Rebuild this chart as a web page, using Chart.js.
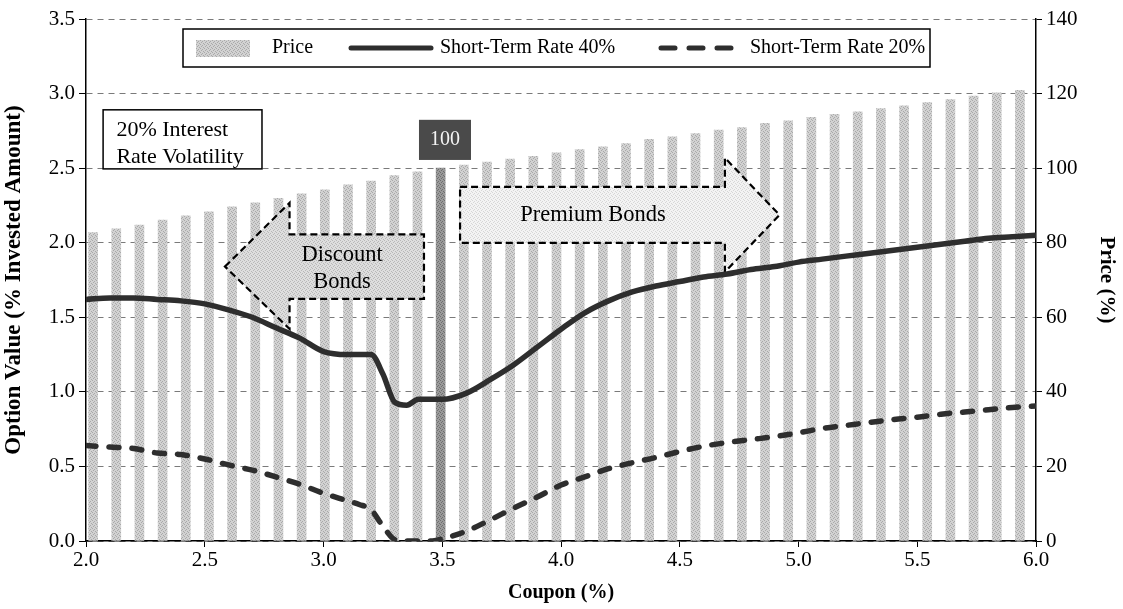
<!DOCTYPE html>
<html>
<head>
<meta charset="utf-8">
<script src="https://cdn.jsdelivr.net/npm/chart.js@4.4.1/dist/chart.umd.min.js"></script>
<style>
html, body { margin: 0; padding: 0; background: #fff; }
#wrap { width: 1123px; height: 609px; }
</style>
</head>
<body>
<div id="wrap"><canvas id="container"></canvas></div>
<script>
// bar categories (coupon, %)
const barCoupons = ['2.0', '2.1', '2.2', '2.3', '2.4', '2.5', '2.6', '2.7', '2.8', '2.9',
    '3.0', '3.1', '3.2', '3.3', '3.4', '3.5', '3.6', '3.7', '3.8', '3.9',
    '4.0', '4.1', '4.2', '4.3', '4.4', '4.5', '4.6', '4.7', '4.8', '4.9',
    '5.0', '5.1', '5.2', '5.3', '5.4', '5.5', '5.6', '5.7', '5.8', '5.9', '6.0']
const price = [82.7, 83.7, 84.7, 86.1, 87.2, 88.3, 89.6, 90.7, 91.9, 93.1,
    94.2, 95.5, 96.5, 98.0, 99.0, 100, 100.8, 101.6, 102.4, 103.2,
    104.1, 105.0, 105.7, 106.6, 107.7, 108.4, 109.3, 110.2, 110.9, 112.0,
    112.7, 113.6, 114.4, 115.1, 116.0, 116.7, 117.6, 118.4, 119.3, 120.2, 120.9]
const parCoupon = '3.5'

// option value curves
const lineCoupons = [2.0, 2.1, 2.2, 2.3, 2.4, 2.5, 2.6, 2.7, 2.8, 2.9, 3.0, 3.1,
    3.15, 3.2, 3.25, 3.3, 3.35, 3.4, 3.45, 3.5,
    3.6, 3.7, 3.8, 3.9, 4.0, 4.1, 4.2, 4.3, 4.4, 4.5, 4.6, 4.7, 4.8, 4.9,
    5.0, 5.1, 5.2, 5.3, 5.4, 5.5, 5.6, 5.7, 5.8, 5.9, 6.0]
const rate40 = [1.62, 1.63, 1.63, 1.62, 1.61, 1.59, 1.55, 1.50, 1.43, 1.36, 1.27, 1.25,
    1.25, 1.25, 1.12, 0.93, 0.91, 0.95, 0.95, 0.95,
    0.99, 1.08, 1.18, 1.30, 1.42, 1.53, 1.61, 1.67, 1.71, 1.74, 1.77, 1.79, 1.82, 1.84,
    1.87, 1.89, 1.91, 1.93, 1.95, 1.97, 1.99, 2.01, 2.03, 2.04, 2.05]
const rate20 = [0.64, 0.63, 0.62, 0.59, 0.58, 0.55, 0.51, 0.475, 0.43, 0.38, 0.32, 0.27,
    0.245, 0.21, 0.10, 0.01, 0.0, 0.0, 0.0, 0.015,
    0.065, 0.14, 0.22, 0.295, 0.375, 0.43, 0.485, 0.525, 0.56, 0.60, 0.635, 0.66, 0.68, 0.70,
    0.725, 0.755, 0.775, 0.795, 0.815, 0.83, 0.85, 0.865, 0.88, 0.895, 0.905]

const FONT = '"Liberation Serif", "Times New Roman", serif'
const lineColor = '#2e2e2e'

// small stipple texture like the printed original
function stipple(base, dot) {
    const c = document.createElement('canvas')
    c.width = 4; c.height = 4
    const g = c.getContext('2d')
    g.fillStyle = base
    g.fillRect(0, 0, 4, 4)
    g.fillStyle = dot
    g.fillRect(0, 0, 1, 1); g.fillRect(2, 1, 1, 1); g.fillRect(1, 2, 1, 1); g.fillRect(3, 3, 1, 1)
    return g.createPattern(c, 'repeat')
}
const barFill = stipple('#d2d2d2', '#a9a9a9')
const parFill = stipple('#9a9a9a', '#6e6e6e')
const discountFill = stipple('#dedede', '#b8b8b8')
const premiumFill = stipple('#f3f3f3', '#d6d6d6')

const toPoints = ys => lineCoupons.map((c, i) => ({ x: c, y: ys[i] }))

function drawPoly(ctx, pts, fill) {
    ctx.save()
    ctx.beginPath()
    pts.forEach((p, i) => i ? ctx.lineTo(p[0], p[1]) : ctx.moveTo(p[0], p[1]))
    ctx.closePath()
    ctx.fillStyle = fill
    ctx.fill()
    ctx.setLineDash([7, 4])
    ctx.lineWidth = 2.2
    ctx.strokeStyle = '#000'
    ctx.stroke()
    ctx.restore()
}

const overlay = {
    id: 'overlay',
    afterDatasetDraw(chart, args) {
        if (args.index !== 0) return
        const ctx = chart.ctx
        const xs = chart.scales.x, ys = chart.scales.y
        const X = v => xs.getPixelForValue(v)
        const Y = v => ys.getPixelForValue(v)
        const P = (a, b) => [X(a), Y(b)]

        // discount arrow (left)
        drawPoly(ctx, [P(2.585, 1.84), P(2.857, 2.267), P(2.857, 2.056), P(3.423, 2.056),
            P(3.423, 1.623), P(2.857, 1.623), P(2.857, 1.422)], discountFill)
        // premium arrow (right)
        drawPoly(ctx, [P(3.575, 2.374), P(4.69, 2.374), P(4.69, 2.569), P(4.92, 2.186),
            P(4.69, 1.804), P(4.69, 1.999), P(3.575, 1.999)], premiumFill)

        ctx.save()
        ctx.fillStyle = '#000'
        ctx.font = '22.5px ' + FONT
        ctx.textAlign = 'center'
        ctx.textBaseline = 'middle'
        ctx.fillText('Discount', X(3.078), Y(1.918))
        ctx.fillText('Bonds', X(3.078), Y(1.737))
        ctx.fillText('Premium Bonds', X(4.135), Y(2.186))

        // par label
        ctx.fillStyle = '#4a4a4a'
        ctx.fillRect(X(3.402), Y(2.824), X(3.621) - X(3.402), Y(2.555) - Y(2.824))
        ctx.fillStyle = '#f4f4f4'
        ctx.font = '20px ' + FONT
        ctx.fillText('100', X(3.512), Y(2.69))

        // volatility box
        ctx.fillStyle = '#fff'
        ctx.fillRect(X(2.072), Y(2.891), X(2.741) - X(2.072), Y(2.495) - Y(2.891))
        ctx.lineWidth = 1.5
        ctx.strokeStyle = '#000'
        ctx.strokeRect(X(2.072), Y(2.891), X(2.741) - X(2.072), Y(2.495) - Y(2.891))
        ctx.fillStyle = '#000'
        ctx.textAlign = 'left'
        ctx.font = '22px ' + FONT
        ctx.fillText('20% Interest', X(2.128), Y(2.757))
        ctx.fillText('Rate Volatility', X(2.128), Y(2.575))

        // legend
        const ca = chart.chartArea
        const lx = ca.left + 97, ly = ca.top + 10
        ctx.fillStyle = '#fff'
        ctx.fillRect(lx, ly, 747, 38)
        ctx.lineWidth = 1.5
        ctx.strokeRect(lx, ly, 747, 38)
        const cy = ly + 19
        ctx.fillStyle = barFill
        ctx.fillRect(lx + 13, cy - 8, 54, 17)
        ctx.fillStyle = '#000'
        ctx.font = '20px ' + FONT
        ctx.fillText('Price', lx + 89, cy)
        ctx.lineWidth = 5
        ctx.lineCap = 'round'
        ctx.strokeStyle = lineColor
        ctx.beginPath()
        ctx.moveTo(lx + 168, cy)
        ctx.lineTo(lx + 248, cy)
        ctx.stroke()
        ctx.fillText('Short-Term Rate 40%', lx + 257, cy)
        ctx.setLineDash([14, 14])
        ctx.beginPath()
        ctx.moveTo(lx + 478, cy)
        ctx.lineTo(lx + 558, cy)
        ctx.stroke()
        ctx.setLineDash([])
        ctx.fillText('Short-Term Rate 20%', lx + 567, cy)
        ctx.restore()
    }
}

new Chart(document.getElementById('container'), {
    data: {
        labels: barCoupons,
        datasets: [
            {
                type: 'bar',
                label: 'Price',
                data: price,
                xAxisID: 'xb',
                yAxisID: 'y2',
                backgroundColor: barCoupons.map(c => c === parCoupon ? parFill : barFill),
                barThickness: 9,
                order: 3
            },
            {
                type: 'line',
                label: 'Short-Term Rate 40%',
                data: toPoints(rate40),
                xAxisID: 'x',
                yAxisID: 'y',
                borderColor: lineColor,
                borderWidth: 5.5,
                pointRadius: 0,
                cubicInterpolationMode: 'monotone',
                order: 1
            },
            {
                type: 'line',
                label: 'Short-Term Rate 20%',
                data: toPoints(rate20),
                xAxisID: 'x',
                yAxisID: 'y',
                borderColor: lineColor,
                borderWidth: 5.5,
                borderDash: [10, 13],
                borderCapStyle: 'round',
                pointRadius: 0,
                cubicInterpolationMode: 'monotone',
                order: 2
            }
        ]
    },
    options: {
        responsive: true,
        maintainAspectRatio: false,
        animation: false,
        layout: { padding: { top: 19, left: 0, right: 0, bottom: 0 } },
        plugins: {
            legend: { display: false },
            tooltip: { enabled: false }
        },
        scales: {
            xb: {
                type: 'category',
                display: false,
                offset: true
            },
            x: {
                type: 'linear',
                position: 'bottom',
                min: 2,
                max: 6,
                afterFit: s => { s.height = 68 },
                ticks: {
                    stepSize: 0.5,
                    color: '#000',
                    font: { family: FONT, size: 21 },
                    callback: v => v.toFixed(1),
                    padding: 1
                },
                grid: { drawOnChartArea: false, drawTicks: true, tickLength: 6, tickColor: '#000' },
                border: { color: '#000', width: 1.5 },
                title: {
                    display: true,
                    text: 'Coupon (%)',
                    color: '#000',
                    font: { family: FONT, size: 20, weight: 'bold' },
                    padding: { top: 3 }
                }
            },
            y: {
                position: 'left',
                min: 0,
                max: 3.5,
                afterFit: s => { s.width = 86 },
                ticks: {
                    stepSize: 0.5,
                    color: '#000',
                    font: { family: FONT, size: 21 },
                    callback: v => v.toFixed(1),
                    padding: 4
                },
                grid: { color: '#7a7a7a', lineWidth: 1, tickLength: 7, tickColor: '#000' },
                border: { color: '#000', width: 1.5, dash: [6, 5] },
                title: {
                    display: true,
                    text: 'Option Value (% Invested Amount)',
                    color: '#000',
                    font: { family: FONT, size: 23, weight: 'bold' },
                    padding: { top: 0, bottom: 2 }
                }
            },
            y2: {
                position: 'right',
                min: 0,
                max: 140,
                afterFit: s => { s.width = 87 },
                ticks: {
                    stepSize: 20,
                    color: '#000',
                    font: { family: FONT, size: 21 },
                    padding: 4
                },
                grid: { drawOnChartArea: false, tickLength: 6, tickColor: '#000' },
                border: { color: '#000', width: 1.5 },
                title: {
                    display: true,
                    text: 'Price (%)',
                    color: '#000',
                    font: { family: FONT, size: 21, weight: 'bold' }
                }
            }
        }
    },
    plugins: [overlay]
})
</script>
</body>
</html>
